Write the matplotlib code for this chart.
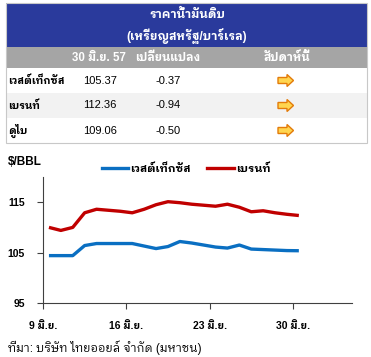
import matplotlib
matplotlib.use('Agg')
import matplotlib.pyplot as plt
from matplotlib.patches import Rectangle, Polygon
from matplotlib.lines import Line2D

# ---------------- data ----------------
title_lines = ["ราคาน้ำมันดิบ", "(เหรียญสหรัฐ/บาร์เรล)"]
col_headers = ["30 มิ.ย. 57", "เปลี่ยนแปลง", "สัปดาห์นี้"]
row_names = ["เวสต์เท็กซัส", "เบรนท์", "ดูไบ"]
prices = ["105.37", "112.36", "109.06"]
changes = ["-0.37", "-0.94", "-0.50"]

days = [9, 10, 11, 12, 13, 14, 15, 16, 17, 18, 19, 20, 21, 22, 23, 24, 25, 26, 27, 28, 29, 30]
wti = [104.4, 104.4, 104.4, 106.4, 106.8, 106.8, 106.8, 106.8, 106.3, 105.8, 106.2, 107.2,
       106.9, 106.5, 106.1, 105.9, 106.5, 105.7, 105.6, 105.5, 105.4, 105.37]
brent = [110.0, 109.4, 110.0, 112.9, 113.6, 113.4, 113.2, 112.9, 113.6, 114.5, 115.1, 114.9,
         114.6, 114.4, 114.2, 114.6, 114.0, 113.1, 113.3, 112.9, 112.6, 112.36]
series_names = ["เวสต์เท็กซัส", "เบรนท์"]
xtick_vals = [9, 16, 23, 30]
xtick_labels = ["9 มิ.ย.", "16 มิ.ย.", "23 มิ.ย.", "30 มิ.ย."]
ytick_vals = [95, 105, 115]
unit_label = "$/BBL"
source_text = "ที่มา: บริษัท ไทยออยล์ จำกัด (มหาชน)"

FAM = ['Liberation Sans', 'IBM Plex Sans Thai Looped', 'Noto Sans Thai Looped', 'DejaVu Sans']
plt.rcParams['font.family'] = FAM

W, H = 371, 357
fig = plt.figure(figsize=(W / 100, H / 100), dpi=100)
fig.patch.set_facecolor('white')

ov = fig.add_axes([0, 0, 1, 1])
ov.set_xlim(0, W)
ov.set_ylim(H, 0)
ov.axis('off')

BLUE = '#2A3A9C'
GRAY = '#A5A5A5'
x0, x1 = 6, 367
ov.add_patch(Rectangle((x0, 3), x1 - x0, 44, facecolor=BLUE, edgecolor='none'))
ov.add_patch(Rectangle((x0, 47), x1 - x0, 21, facecolor=GRAY, edgecolor='none'))
row_tops = [68, 93, 118]
row_h = 25
for i, t in enumerate(row_tops):
    fc = '#F2F2F2' if i == 1 else 'white'
    ov.add_patch(Rectangle((x0, t), x1 - x0, row_h, facecolor=fc, edgecolor='none'))
ov.add_patch(Rectangle((x0, 3), x1 - x0, 140, facecolor='none', edgecolor='#C8C8C8', lw=0.8))

ov.text(187, 15, title_lines[0], color='white', fontsize=8.5, fontweight='bold', ha='center', va='center')
ov.text(187, 36, title_lines[1], color='white', fontsize=8.5, fontweight='bold', ha='center', va='center')

col_x = [99, 168, 287]
for cx, h in zip(col_x, col_headers):
    ov.text(cx, 58, h, color='white', fontsize=8.3, fontweight='bold', ha='center', va='center')

for i, t in enumerate(row_tops):
    cy = t + row_h / 2
    ov.text(8, cy, row_names[i], color='black', fontsize=7.5, fontweight='bold', ha='left', va='center')
    ov.text(col_x[0] + 1, cy, prices[i], color='black', fontsize=8, ha='center', va='center')
    ov.text(col_x[1], cy, changes[i], color='black', fontsize=8, ha='center', va='center')
    ax0 = 278
    pts = [(ax0, cy - 3), (ax0 + 9, cy - 3), (ax0 + 9, cy - 6), (ax0 + 15.5, cy),
           (ax0 + 9, cy + 6), (ax0 + 9, cy + 3), (ax0, cy + 3)]
    ov.add_patch(Polygon(pts, closed=True, facecolor='#FFD54F', edgecolor='#E37B0A', lw=1.0))

ov.text(8, 162, unit_label, color='black', fontsize=8.5, fontweight='bold', ha='left', va='center')
ov.text(8, 348, source_text, color='black', fontsize=8.5, ha='left', va='center')

# ---------------- chart ----------------
ax = fig.add_axes([43 / W, 54 / H, (352.4 - 43) / W, (303 - 177) / H])
ax.set_facecolor('none')
xs = [d + 0.5 for d in days]
blue_c = '#0A6FC2'
red_c = '#C00000'
ax.plot(xs, wti, color=blue_c, lw=2.4, solid_joinstyle='round', solid_capstyle='butt')
ax.plot(xs, brent, color=red_c, lw=2.4, solid_joinstyle='round', solid_capstyle='butt')
ax.set_xlim(9, 35)
ax.set_ylim(95, 120)
ax.set_xticks(xtick_vals)
ax.set_xticklabels(xtick_labels, fontsize=7.5, fontweight='bold')
ax.set_yticks(ytick_vals)
ax.set_yticklabels([str(v) for v in ytick_vals], fontsize=7.5, fontweight='bold')
for s in ['top', 'right']:
    ax.spines[s].set_visible(False)
for s in ['left', 'bottom']:
    ax.spines[s].set_color('#404040')
    ax.spines[s].set_linewidth(0.8)
ax.tick_params(axis='y', direction='out', length=4, width=0.8, color='#404040', pad=9)
ax.tick_params(axis='x', direction='out', length=4, width=0.8, color='#404040', pad=9)

handles = [Line2D([], [], color=blue_c, lw=2.4), Line2D([], [], color=red_c, lw=2.4)]
leg = fig.legend(handles, series_names, loc='center', bbox_to_anchor=(186 / W, 1 - 169 / H),
                 ncol=2, frameon=False, handlelength=2.4, handletextpad=0.15,
                 columnspacing=1.5, prop={'family': FAM, 'weight': 'bold', 'size': 8})

fig.savefig('out.png', dpi=100)
